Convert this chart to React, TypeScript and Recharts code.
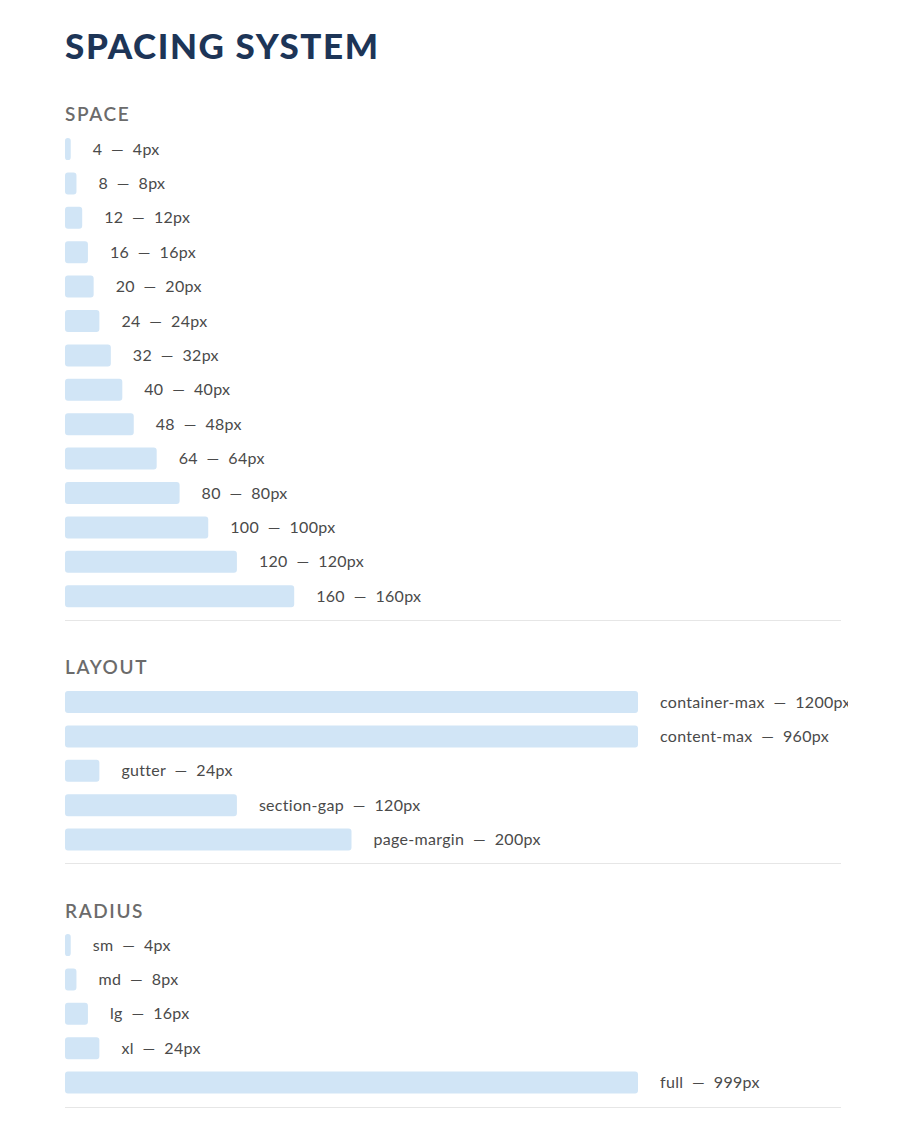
import React from 'react';
import { BarChart, Bar, XAxis, YAxis, LabelList } from 'recharts';

const spaceNames = ['4', '8', '12', '16', '20', '24', '32', '40', '48', '64', '80', '100', '120', '160'];
const spaceValues = [4, 8, 12, 16, 20, 24, 32, 40, 48, 64, 80, 100, 120, 160];

const layoutNames = ['container-max', 'content-max', 'gutter', 'section-gap', 'page-margin'];
const layoutValues = [1200, 960, 24, 120, 200];

const radiusNames = ['sm', 'md', 'lg', 'xl', 'full'];
const radiusValues = [4, 8, 16, 24, 999];

// bars stop growing past this value
const CAP = 400;
const ROW = 34.4;
const FONT = 'Lato, "Open Sans", sans-serif';
const SEP = '\u00a0\u00a0—\u00a0\u00a0';

const rows = (names: string[], values: number[]) =>
  names.map((n, i) => ({
    name: n,
    shown: Math.min(values[i], CAP),
    label: `${n}${SEP}${values[i]}px`,
  }));

function Section({ data, top }: { data: ReturnType<typeof rows>; top: number }) {
  const h = data.length * ROW;
  return (
    <div style={{ position: 'absolute', left: 57, top, width: 783, height: h, overflow: 'hidden' }}>
      <BarChart
        width={783}
        height={h}
        data={data}
        layout="vertical"
        margin={{ top: 0, right: 210, bottom: 0, left: 0 }}
        barSize={22}
      >
        <XAxis type="number" dataKey="shown" domain={[0, CAP]} hide />
        <YAxis type="category" dataKey="name" hide width={0} />
        <Bar dataKey="shown" fill="#d1e5f6" radius={3} isAnimationActive={false}>
          <LabelList
            dataKey="label"
            position="right"
            offset={22}
            style={{ fill: '#4a4a4a', fontSize: 16, letterSpacing: 0.3, fontFamily: FONT }}
          />
        </Bar>
      </BarChart>
    </div>
  );
}

const headerStyle: React.CSSProperties = {
  position: 'absolute',
  left: 57,
  fontFamily: FONT,
  fontSize: 19,
  lineHeight: '20px',
  letterSpacing: 1.6,
  color: '#6b6b6b',
  fontWeight: 600,
};

const divider = (top: number) => (
  <div style={{ position: 'absolute', left: 57, top, width: 776, height: 1, background: '#e6e6e6' }} />
);

export default function App() {
  return (
    <div style={{ position: 'relative', width: 884, height: 1108, background: '#fff' }}>
      <div
        style={{
          position: 'absolute',
          left: 57,
          top: 17,
          fontFamily: FONT,
          fontSize: 35,
          lineHeight: '40px',
          fontWeight: 900,
          letterSpacing: 1.6,
          color: '#1d3557',
        }}
      >
        SPACING SYSTEM
      </div>

      <div style={{ ...headerStyle, top: 95.5 }}>SPACE</div>
      <Section data={rows(spaceNames, spaceValues)} top={123.8} />
      {divider(612)}

      <div style={{ ...headerStyle, top: 648.5 }}>LAYOUT</div>
      <Section data={rows(layoutNames, layoutValues)} top={676.8} />
      {divider(855)}

      <div style={{ ...headerStyle, top: 892.5 }}>RADIUS</div>
      <Section data={rows(radiusNames, radiusValues)} top={920} />
      {divider(1099)}
    </div>
  );
}
